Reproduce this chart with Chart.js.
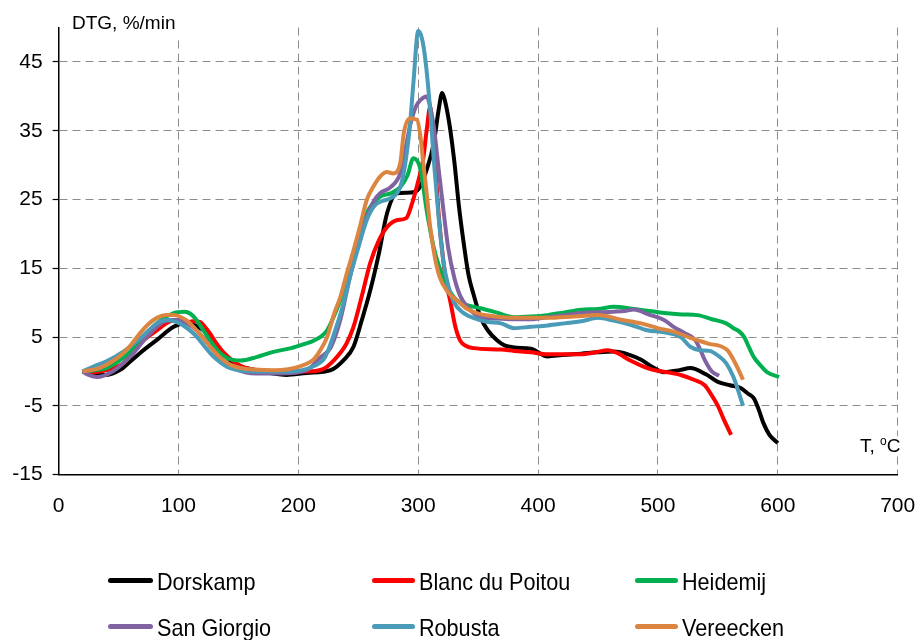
<!DOCTYPE html>
<html>
<head>
<meta charset="utf-8">
<script src="https://cdn.jsdelivr.net/npm/chart.js@4"></script>
<style>
  html, body { margin: 0; padding: 0; background: #fff; }
  #wrap { position: relative; width: 919px; height: 640px; font-family: "Liberation Sans", Arial, sans-serif; color: #000; }
  #c { position: absolute; left: 0; top: 0; }
  .lab { position: absolute; white-space: nowrap; font-size: 19px; line-height: 19px; background: #fff; }
  .lab sup { font-size: 12px; vertical-align: 7px; line-height: 0; }
  .leg { position: absolute; white-space: nowrap; font-size: 24px; line-height: 24px; transform: scaleX(0.9); transform-origin: 0 0; }
  .sw { position: absolute; height: 5px; border-radius: 2.5px; }
</style>
</head>
<body>
<div id="wrap">
  <canvas id="c" width="919" height="640"></canvas>
  <div class="lab" style="left:72px; top:13px; padding:0 6px 8px 0;">DTG, %/min</div>
  <div class="lab" style="left:860px; top:436px;">T, <sup>o</sup>C</div>
</div>
<script>
// ---- data ----
const seriesNames = ["Dorskamp", "Blanc du Poitou", "Heidemij", "San Giorgio", "Robusta", "Vereecken"];
const seriesColors = ["#000000", "#ff0000", "#00b050", "#8064a2", "#4a9bb8", "#dc8540"];

const xTicks = [0, 100, 200, 300, 400, 500, 600, 700];
const yTicks = [-15, -5, 5, 15, 25, 35, 45];

const dorskampT = [20,30,40,51,60,68,82,96,107,115,124,135,146,165,190,207,227,238,246,253,260,267,274,282,290,297,302,307,313,317,320,322,326,330,334,338,342,346,352,358,366,372,380,394,408,420,436,450,463,475,486,495,505,518,527,540,550,560,569,575,580,584,588,593,600];
const dorskampV = [0,-0.3,-0.5,0.2,1.5,2.7,4.6,6.5,7.1,6.6,5.6,3.1,1.2,0.2,-0.5,-0.2,0.2,1.7,3.6,7.5,11.8,17,23,25.9,26,26.1,27,29.3,33.2,38,40.5,39.6,36,30.7,24,18.6,14,11.3,7.9,6,4.5,3.8,3.5,3.3,2.2,2.4,2.6,2.8,2.9,2.5,1.7,0.7,-0.1,0.2,0.5,-0.4,-1.5,-2,-2.4,-3.2,-3.9,-5.5,-7.5,-9.2,-10.4];

const blancT = [20,30,40,54,68,82,96,105,112,118,122,126,132,138,152,165,180,207,220,230,240,246,253,260,267,274,282,290,295,299,304,307,310,312,314,317,321,324,327,331,335,340,346,369,380,394,408,422,436,448,458,466,477,487,497,508,519,530,539,545,550,555,561];
const blancV = [0,-0.1,0.2,1.2,4.1,6,7.4,7,7.3,7.2,6.5,5.6,4,2.7,0.8,0.2,0,0,0.3,1.7,4,6.5,11,15.8,19,21,22,22.3,24.5,27,30.7,35,38.5,35,30.7,23,16,12.5,10,6.5,4.5,3.7,3.4,3.2,3,2.8,2.5,2.5,2.5,2.8,3.1,2.7,1.6,0.8,0.2,-0.1,-0.5,-1.2,-2,-3.5,-5,-7,-9.2];

const heidemijT = [20,30,40,54,68,82,96,105,110,115,120,126,133,140,152,165,180,194,205,213,224,232,243,250,257,268,277,285,291,296,302,307,313,317,321,327,332,340,352,365,380,394,408,422,436,450,463,480,493,505,520,533,545,557,563,568,572,576,580,586,591,601];
const heidemijV = [0,0.2,0.5,2,4.3,7,8.5,8.7,8.4,7.5,6.2,4.6,3,2,1.6,2.1,2.9,3.4,4,4.5,6,9,14.3,19,23,25.4,25.9,26.8,28.5,31,29.3,23.5,18,15.5,13.7,11.5,10.4,9.7,9.2,8.6,7.9,8,8.2,8.6,9,9.1,9.4,9.1,8.8,8.5,8.3,8.2,7.6,7,6.3,5.8,5,3.5,2.1,0.8,-0.1,-0.8];

const sanGiorgioT = [20,25,32,45,60,74,87,95,101,108,115,122,129,137,146,165,185,207,218,227,235,243,250,257,263,268,277,285,289,293,298,302,307,310,313,317,321,325,330,335,341,352,365,380,394,408,422,436,450,463,472,480,492,505,513,522,531,535,539,545,551];
const sanGiorgioV = [0,-0.5,-0.8,0,2.2,5.1,7.2,7.5,7.5,6.9,6,4.6,3.1,1.6,0.5,-0.3,-0.3,0.2,2,3.5,7.5,13.7,18.5,22.4,24.8,25.9,26.8,28.8,32,35.6,38.5,39.5,40,38.5,35.6,29.5,23.5,18,13.7,11,9.4,7.9,7.7,7.6,7.6,7.9,8.2,8.5,8.6,8.7,8.8,9,8.3,7.5,6.5,5.6,4.6,3.3,1.7,0,-0.6];

const robustaT = [20,30,40,54,68,82,90,101,108,115,122,129,136,143,165,193,213,222,230,237,243,250,257,263,270,277,285,289,293,296,300,303,306,310,313,317,321,325,330,338,346,358,369,380,394,408,422,436,450,463,477,491,505,519,527,535,543,551,557,563,567,571];
const robustaV = [0,0.8,1.5,2.9,4.8,7,7.5,7,6.2,5.1,3.6,2.2,1.2,0.5,0,0,0.8,2,5.6,9.5,13.7,18,22,24,24.8,25.2,26.8,30,35.6,42,49.5,48.5,45.3,38,30.7,22.5,16,12.5,10,8.5,7.8,7.2,7,6.3,6.5,6.7,7,7.3,7.8,7.4,6.8,6,5.7,5,3.6,3.1,3,2.2,1.2,-0.8,-2.8,-5];

const vereeckenT = [20,34,45,54,61,68,75,82,90,96,101,107,114,121,128,135,143,152,180,202,213,218,224,230,235,240,246,252,257,263,268,274,279,285,288,293,299,302,304,307,310,314,318,325,332,340,349,360,380,408,430,450,470,486,500,513,527,541,558,563,567,571];
const vereeckenV = [0,0.5,1.5,2.7,4,5.6,6.9,7.8,8.2,8.2,8,7.4,6.2,4.8,3.3,2,1,0.5,0.2,0.8,1.8,3,5,8.5,10.8,14,17.6,21.5,24.9,27,28.3,29,28.8,30.3,34.7,36.8,36.6,34,30.7,26,21,16.5,13.7,11.5,10.4,9.2,8.5,8.1,7.8,7.8,8,8.2,7.5,7,6.3,5.8,4.9,4.1,3.1,1.7,0.3,-1.2];

const seriesT = [dorskampT, blancT, heidemijT, sanGiorgioT, robustaT, vereeckenT];
const seriesV = [dorskampV, blancV, heidemijV, sanGiorgioV, robustaV, vereeckenV];

// ---- chart ----
const datasets = seriesNames.map((name, i) => ({
  label: name,
  data: seriesT[i].map((t, k) => ({ x: t, y: seriesV[i][k] })),
  borderColor: seriesColors[i],
  backgroundColor: seriesColors[i],
  borderWidth: 4,
  pointRadius: 0,
  fill: false,
  cubicInterpolationMode: 'monotone',
  order: seriesNames.length - i
}));

const tickFont = { family: "'Liberation Sans', Arial, sans-serif", size: 21 };

new Chart(document.getElementById('c'), {
  type: 'line',
  data: { datasets },
  options: {
    responsive: false,
    animation: false,
    devicePixelRatio: 1,
    layout: { padding: { left: 0, top: 27.6, right: 21.3, bottom: 105.3 } },
    plugins: { legend: { display: false }, tooltip: { enabled: false } },
    scales: {
      x: {
        type: 'linear',
        min: 0, max: 700,
        afterBuildTicks: s => { s.ticks = xTicks.map(v => ({ value: v })); },
        afterFit: s => { s.height = 60; s.paddingRight = 0; s.paddingLeft = 0; },
        ticks: { color: '#000', font: tickFont, padding: 19, maxRotation: 0 },
        grid: { color: '#8c8c8c', lineWidth: 1, drawTicks: false },
        border: { color: '#000', width: 1.5, dash: [8, 5] }
      },
      y: {
        type: 'linear',
        min: -15, max: 50,
        afterBuildTicks: s => { s.ticks = yTicks.map(v => ({ value: v })); },
        afterFit: s => { s.width = 58.6; s.paddingTop = 0; s.paddingBottom = 0; },
        ticks: { color: '#000', font: tickFont, padding: 10 },
        grid: { color: '#8c8c8c', lineWidth: 1, tickLength: 6, tickColor: '#000', tickWidth: 1.2, tickBorderDash: [] },
        border: { color: '#000', width: 1.5, dash: [8, 5] }
      }
    }
  }
});

// ---- legend (HTML text, 3 columns x 2 rows) ----
const legendCols = [{ sw: 108, tx: 157 }, { sw: 372, tx: 419 }, { sw: 635, tx: 682 }];
const legendRows = [{ line: 578, top: 570 }, { line: 624, top: 616 }];
const wrap = document.getElementById('wrap');
seriesNames.forEach((name, i) => {
  const col = legendCols[i % 3], row = legendRows[Math.floor(i / 3)];
  const sw = document.createElement('div');
  sw.className = 'sw';
  sw.style.left = col.sw + 'px';
  sw.style.width = (col.tx - col.sw - 4) + 'px';
  sw.style.top = row.line + 'px';
  sw.style.background = seriesColors[i];
  wrap.appendChild(sw);
  const t = document.createElement('div');
  t.className = 'leg';
  t.style.left = col.tx + 'px';
  t.style.top = row.top + 'px';
  t.textContent = name;
  wrap.appendChild(t);
});
</script>
</body>
</html>
